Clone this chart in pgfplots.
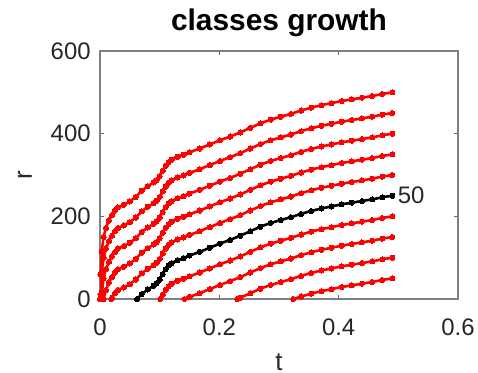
\documentclass[border=0pt]{standalone}
\usepackage{fontspec}
\setmainfont{Liberation Sans}
\usepackage{pgfplots}
\pgfplotsset{compat=1.18}
\begin{document}
\begin{tikzpicture}
\begin{axis}[
  scale only axis, width=179bp, height=124bp,
  xmin=0, xmax=0.6, ymin=0, ymax=600,
  xtick={0,0.2,0.4,0.6}, ytick={0,200,400,600},
  tick align=inside, major tick length=2bp,
  axis line style={black!50, line width=0.6bp},
  tick style={black!60, line width=0.6bp},
  /pgf/number format/assume math mode=true,
  ticklabel style={font=\fontsize{12}{14}\selectfont, text=black!85},
  xticklabel style={anchor=base, inner sep=0pt, yshift=-18bp},
  yticklabel style={anchor=east, inner sep=0pt, xshift=-4.5bp},
  title={\bfseries classes growth},
  every axis title shift=0pt,
  title style={font=\fontsize{15}{18}\selectfont, at={(0.5,1.0847)}, anchor=base, inner sep=0pt},
  xlabel={t}, ylabel={r},
  xlabel style={font=\fontsize{13}{15}\selectfont, text=black!85, at={(0.5,-0.2863)}, anchor=base, inner sep=0pt},
  ylabel style={font=\fontsize{13}{15}\selectfont, text=black!85, at={(-0.19,0.5)}, anchor=base, inner sep=0pt},
  every axis plot/.append style={line width=1.3bp, mark=*, mark size=1.3bp},
]
% k=0
\addplot[red, mark options={fill=red, draw=red, line width=0pt}] coordinates {(0,0) (0.001,60) (0.003,115) (0.006,150) (0.01,172) (0.015,190) (0.02,203) (0.025,214) (0.03,222) (0.04,228) (0.05,236) (0.06,247) (0.07,262) (0.08,273) (0.09,282) (0.095,288) (0.1,297) (0.105,310) (0.11,322) (0.115,331) (0.12,337) (0.13,344) (0.14,349) (0.15,355) (0.167,364) (0.184,374) (0.201,384) (0.218,393) (0.235,403) (0.252,414) (0.269,425) (0.286,434) (0.303,441) (0.32,448) (0.337,456) (0.354,463) (0.371,469) (0.388,474) (0.405,479) (0.422,483) (0.439,487) (0.456,491) (0.473,496) (0.49,500)};
% k=1
\addplot[red, mark options={fill=red, draw=red, line width=0pt}] coordinates {(0.00083,0) (0.001,10) (0.003,65) (0.006,100) (0.01,122) (0.015,140) (0.02,153) (0.025,164) (0.03,172) (0.04,178) (0.05,186) (0.06,197) (0.07,212) (0.08,223) (0.09,232) (0.095,238) (0.1,247) (0.105,260) (0.11,272) (0.115,281) (0.12,287) (0.13,294) (0.14,299) (0.15,305) (0.167,314) (0.184,324) (0.201,334) (0.218,343) (0.235,353) (0.252,364) (0.269,375) (0.286,384) (0.303,391) (0.32,398) (0.337,406) (0.354,413) (0.371,419) (0.388,424) (0.405,429) (0.422,433) (0.439,437) (0.456,441) (0.473,446) (0.49,450)};
% k=2
\addplot[red, mark options={fill=red, draw=red, line width=0pt}] coordinates {(0.00245,0) (0.003,15) (0.006,50) (0.01,72) (0.015,90) (0.02,103) (0.025,114) (0.03,122) (0.04,128) (0.05,136) (0.06,147) (0.07,162) (0.08,173) (0.09,182) (0.095,188) (0.1,197) (0.105,210) (0.11,222) (0.115,231) (0.12,237) (0.13,244) (0.14,249) (0.15,255) (0.167,264) (0.184,274) (0.201,284) (0.218,293) (0.235,303) (0.252,314) (0.269,325) (0.286,334) (0.303,341) (0.32,348) (0.337,356) (0.354,363) (0.371,369) (0.388,374) (0.405,379) (0.422,383) (0.439,387) (0.456,391) (0.473,396) (0.49,400)};
% k=3
\addplot[red, mark options={fill=red, draw=red, line width=0pt}] coordinates {(0.006,0) (0.01,22) (0.015,40) (0.02,53) (0.025,64) (0.03,72) (0.04,78) (0.05,86) (0.06,97) (0.07,112) (0.08,123) (0.09,132) (0.095,138) (0.1,147) (0.105,160) (0.11,172) (0.115,181) (0.12,187) (0.13,194) (0.14,199) (0.15,205) (0.167,214) (0.184,224) (0.201,234) (0.218,243) (0.235,253) (0.252,264) (0.269,275) (0.286,284) (0.303,291) (0.32,298) (0.337,306) (0.354,313) (0.371,319) (0.388,324) (0.405,329) (0.422,333) (0.439,337) (0.456,341) (0.473,346) (0.49,350)};
% k=4
\addplot[red, mark options={fill=red, draw=red, line width=0pt}] coordinates {(0.0188,0) (0.02,3) (0.025,14) (0.03,22) (0.04,28) (0.05,36) (0.06,47) (0.07,62) (0.08,73) (0.09,82) (0.095,88) (0.1,97) (0.105,110) (0.11,122) (0.115,131) (0.12,137) (0.13,144) (0.14,149) (0.15,155) (0.167,164) (0.184,174) (0.201,184) (0.218,193) (0.235,203) (0.252,214) (0.269,225) (0.286,234) (0.303,241) (0.32,248) (0.337,256) (0.354,263) (0.371,269) (0.388,274) (0.405,279) (0.422,283) (0.439,287) (0.456,291) (0.473,296) (0.49,300)};
% k=6
\addplot[red, mark options={fill=red, draw=red, line width=0pt}] coordinates {(0.1012,0) (0.105,10) (0.11,22) (0.115,31) (0.12,37) (0.13,44) (0.14,49) (0.15,55) (0.167,64) (0.184,74) (0.201,84) (0.218,93) (0.235,103) (0.252,114) (0.269,125) (0.286,134) (0.303,141) (0.32,148) (0.337,156) (0.354,163) (0.371,169) (0.388,174) (0.405,179) (0.422,183) (0.439,187) (0.456,191) (0.473,196) (0.49,200)};
% k=7
\addplot[red, mark options={fill=red, draw=red, line width=0pt}] coordinates {(0.1417,0) (0.15,5) (0.167,14) (0.184,24) (0.201,34) (0.218,43) (0.235,53) (0.252,64) (0.269,75) (0.286,84) (0.303,91) (0.32,98) (0.337,106) (0.354,113) (0.371,119) (0.388,124) (0.405,129) (0.422,133) (0.439,137) (0.456,141) (0.473,146) (0.49,150)};
% k=8
\addplot[red, mark options={fill=red, draw=red, line width=0pt}] coordinates {(0.230,0) (0.235,3) (0.252,14) (0.269,25) (0.286,34) (0.303,41) (0.32,48) (0.337,56) (0.354,63) (0.371,69) (0.388,74) (0.405,79) (0.422,83) (0.439,87) (0.456,91) (0.473,96) (0.49,100)};
% k=9
\addplot[red, mark options={fill=red, draw=red, line width=0pt}] coordinates {(0.324,0) (0.337,6) (0.354,13) (0.371,19) (0.388,24) (0.405,29) (0.422,33) (0.439,37) (0.456,41) (0.473,46) (0.49,50)};
% k=5 (black, class 50)
\addplot[black, mark options={fill=black, draw=black, line width=0pt}] coordinates {(0.062,0) (0.07,12) (0.08,23) (0.09,32) (0.095,38) (0.1,47) (0.105,60) (0.11,72) (0.115,81) (0.12,87) (0.13,94) (0.14,99) (0.15,105) (0.167,114) (0.184,124) (0.201,134) (0.218,143) (0.235,153) (0.252,164) (0.269,175) (0.286,184) (0.303,191) (0.32,198) (0.337,206) (0.354,213) (0.371,219) (0.388,224) (0.405,229) (0.422,233) (0.439,237) (0.456,241) (0.473,246) (0.49,250)};
\node[anchor=west, inner sep=0pt, xshift=2.5bp, font=\fontsize{12}{14}\selectfont, text=black!85] at (axis cs:0.49,250) {50};
\end{axis}
\pgfresetboundingbox
\path (-50bp,-37bp) rectangle (189bp,149.5bp);
\end{tikzpicture}
\end{document}
